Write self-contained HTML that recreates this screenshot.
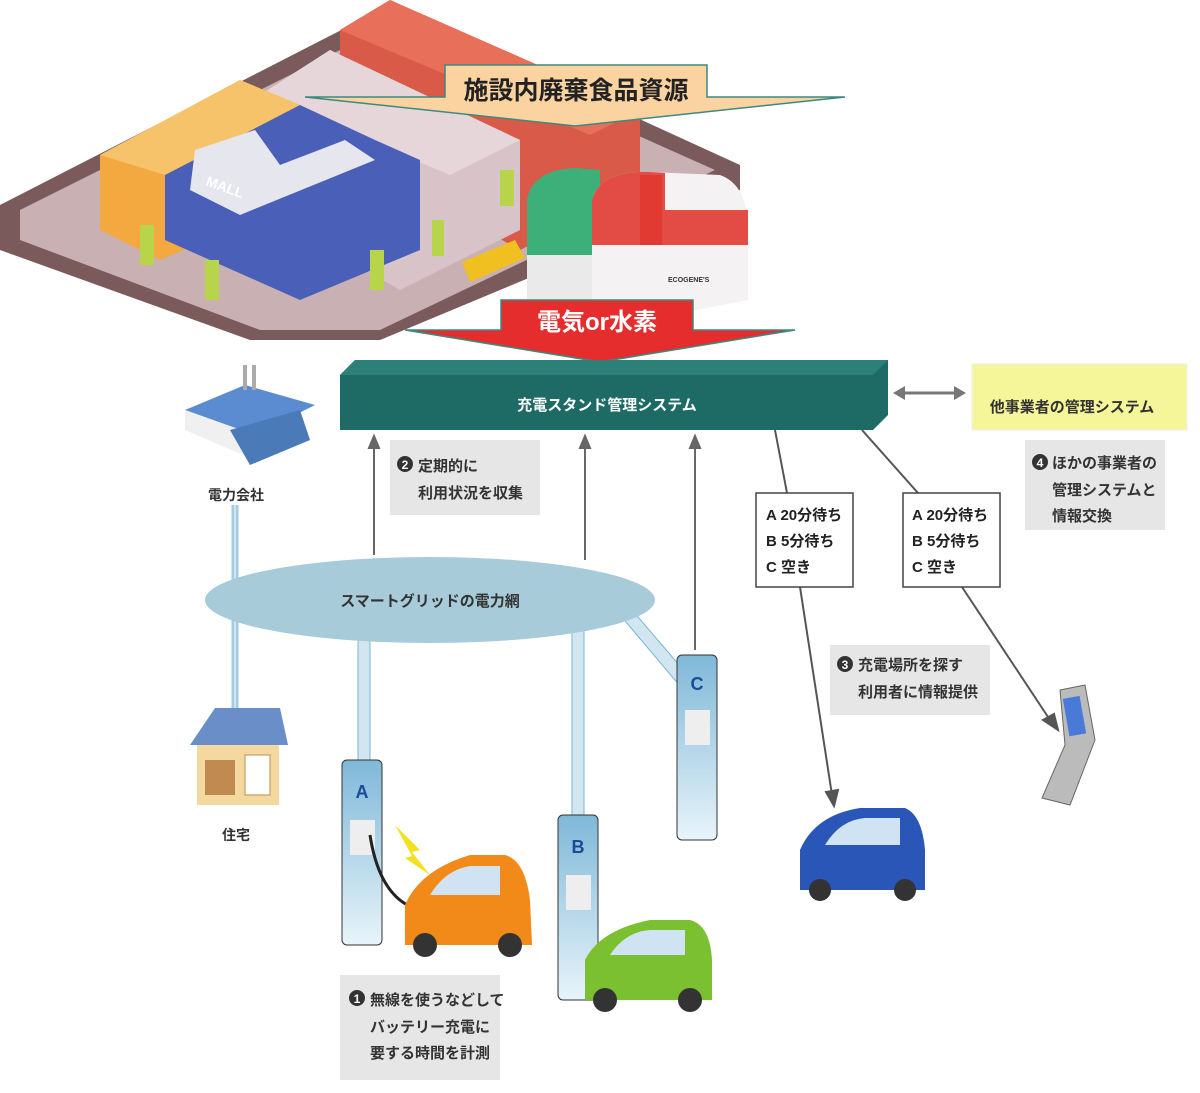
<!DOCTYPE html>
<html><head><meta charset="utf-8"><style>
html,body{margin:0;padding:0;background:#fff;}
svg{display:block;}
text{font-family:"Liberation Sans","Noto Sans CJK JP",sans-serif;font-weight:bold;}
</style></head><body>
<svg width="1200" height="1093" viewBox="0 0 1200 1093" xmlns="http://www.w3.org/2000/svg">
<defs>
<linearGradient id="bl" x1="0" x2="0" y1="0" y2="1"><stop offset="0" stop-color="#7fb8d8"/><stop offset="1" stop-color="#e8f4fa"/></linearGradient>
<linearGradient id="gr" x1="0" x2="1"><stop offset="0" stop-color="#e4e4e4"/><stop offset="1" stop-color="#fafafa"/></linearGradient>
</defs>
<!-- city ground -->
<polygon points="0,205 390,5 740,165 740,190 380,340 250,340 0,250" fill="#7a5a5a"/>
<polygon points="20,210 390,25 715,170 380,330 260,330 20,240" fill="#c9b0b3"/>
<!-- red building -->
<polygon points="340,30 390,0 640,110 640,190 520,250 340,150" fill="#d95a48"/>
<polygon points="340,30 390,0 640,110 590,135" fill="#e8705a"/>
<!-- pink building -->
<polygon points="260,95 330,50 520,140 520,230 400,290 260,210" fill="#d8c4c8"/>
<polygon points="260,95 330,50 520,140 450,175" fill="#e6d6da"/>
<!-- yellow building -->
<polygon points="100,155 240,80 300,105 300,200 160,260 100,230" fill="#f4a940"/>
<polygon points="100,155 240,80 300,105 165,175" fill="#f7c36a"/>
<!-- blue mall -->
<polygon points="165,175 300,105 375,140 420,160 420,250 300,300 165,240" fill="#4a5fb8"/>
<polygon points="195,150 255,130 280,165 345,140 375,160 240,215 190,190" fill="#e6e6ef"/>
<text x="205" y="185" font-size="14" fill="#fff" transform="rotate(20 205 185)">MALL</text>
<!-- trees -->
<rect x="140" y="225" width="14" height="40" fill="#b7d44a"/>
<rect x="205" y="260" width="14" height="40" fill="#b7d44a"/>
<rect x="370" y="250" width="14" height="40" fill="#b7d44a"/>
<rect x="432" y="220" width="12" height="36" fill="#b7d44a"/>
<rect x="500" y="170" width="14" height="36" fill="#b7d44a"/>
<!-- bus -->
<polygon points="462,262 515,240 525,258 470,282" fill="#f0c020"/>
<!-- tanks -->
<path d="M527,295 L527,200 Q532,170 575,168 L600,170 L600,300 Z" fill="#3db07a"/>
<path d="M527,255 L600,255 L600,300 L527,300 Z" fill="#eaeaea"/>
<path d="M592,330 L592,200 Q600,170 650,172 L720,175 Q748,185 748,230 L748,300 Z" fill="#f4f2f2"/>
<path d="M592,200 Q600,170 650,172 L665,173 L665,210 L748,210 L748,245 L592,245 Z" fill="#e03a32" opacity="0.9"/>
<rect x="640" y="175" width="22" height="70" fill="#e03a32"/>
<text x="668" y="282" font-size="7" fill="#333" font-weight="normal">ECOGENE'S</text>
<!-- callout -->
<polygon points="445,65 707,65 707,97 845,97 575,126 305,97 445,97" fill="#fbd3a0" stroke="#3a8a80" stroke-width="1.5"/>
<text x="576" y="99" font-size="25" text-anchor="middle" fill="#222">施設内廃棄食品資源</text>
<!-- red arrow -->
<polygon points="501,300 693,300 693,330 795,330 600,362 405,330 501,330" fill="#e52d2d" stroke="#3a8a80" stroke-width="1.5"/>
<text x="597" y="330" font-size="24" text-anchor="middle" fill="#fff">電気or水素</text>
<!-- management bar -->
<polygon points="340,375 355,360 888,360 888,415 873,430 340,430" fill="#1e6a64"/>
<polygon points="340,375 355,360 888,360 873,375" fill="#2c8078"/>
<text x="607" y="410" font-size="15" text-anchor="middle" fill="#fff">充電スタンド管理システム</text>
<!-- double arrow -->
<line x1="900" y1="393" x2="958" y2="393" stroke="#777" stroke-width="3"/>
<polygon points="893,393 905,386 905,400" fill="#777"/><polygon points="966,393 954,386 954,400" fill="#777"/>
<!-- other system -->
<rect x="972" y="364" width="215" height="66" fill="#f5f59a"/>
<rect x="972" y="364" width="215" height="66" fill="none" stroke="#eee"/>
<text x="1072" y="412" font-size="15" text-anchor="middle" fill="#333">他事業者の管理システム</text>
<!-- note 4 -->
<rect x="1025" y="440" width="140" height="90" fill="#e6e6e6"/>
<circle cx="1040" cy="462" r="8" fill="#333"/><text x="1040" y="467" font-size="12" fill="#fff" text-anchor="middle">4</text>
<text x="1052" y="468" font-size="15" fill="#333">ほかの事業者の</text>
<text x="1052" y="495" font-size="15" fill="#333">管理システムと</text>
<text x="1052" y="521" font-size="15" fill="#333">情報交換</text>
<!-- power company -->
<polygon points="185,410 245,385 315,405 255,435" fill="#5b8bd0"/>
<polygon points="185,410 255,435 255,460 185,430" fill="#f0f0f0"/>
<polygon points="230,430 300,410 310,440 250,465" fill="#4a7ab8"/>
<rect x="243" y="365" width="4" height="25" fill="#aaa"/><rect x="252" y="365" width="4" height="25" fill="#aaa"/>
<text x="236" y="500" font-size="14" text-anchor="middle" fill="#333">電力会社</text>
<!-- vertical lines from power co -->
<rect x="231" y="505" width="8" height="205" fill="#cfe4ef"/><line x1="233" y1="505" x2="233" y2="710" stroke="#7ab4d4"/><line x1="237" y1="505" x2="237" y2="710" stroke="#7ab4d4"/>
<!-- house -->
<polygon points="190,745 215,708 280,708 288,745" fill="#6a8fc8"/>
<rect x="197" y="745" width="82" height="60" fill="#f3d9a0"/>
<rect x="205" y="760" width="30" height="35" fill="#c08a50"/>
<rect x="245" y="755" width="25" height="40" fill="#fff" stroke="#c08a50"/>
<text x="236" y="840" font-size="14" text-anchor="middle" fill="#333">住宅</text>
<!-- note 2 -->
<rect x="390" y="440" width="150" height="75" fill="#e6e6e6"/>
<circle cx="405" cy="464" r="8" fill="#333"/><text x="405" y="469" font-size="12" fill="#fff" text-anchor="middle">2</text>
<text x="418" y="471" font-size="15" fill="#333">定期的に</text>
<text x="418" y="498" font-size="15" fill="#333">利用状況を収集</text>
<!-- up arrows -->
<g stroke="#666" stroke-width="2" fill="#666">
<line x1="374" y1="555" x2="374" y2="445"/><polygon points="369,448 379,448 374,436"/>
<line x1="585" y1="560" x2="585" y2="445"/><polygon points="580,448 590,448 585,436"/>
<line x1="695" y1="650" x2="695" y2="445"/><polygon points="690,448 700,448 695,436"/>
</g>
<!-- grid lines -->
<g fill="#d2e6f0" stroke="#7ab4d4">
<rect x="358" y="630" width="12" height="130"/>
<rect x="572" y="630" width="12" height="185"/>
<polygon points="620,615 632,610 692,680 680,686"/>
</g>
<!-- ellipse -->
<ellipse cx="430" cy="600" rx="225" ry="43" fill="#a7cbd9"/>
<text x="430" y="606" font-size="15" text-anchor="middle" fill="#333">スマートグリッドの電力網</text>
<!-- chargers -->
<rect x="342" y="760" width="40" height="185" rx="5" fill="url(#bl)" stroke="#333"/>
<text x="362" y="798" font-size="18" text-anchor="middle" fill="#1a4a9a">A</text>
<rect x="350" y="820" width="25" height="35" fill="#eee"/>
<rect x="558" y="815" width="40" height="185" rx="5" fill="url(#bl)" stroke="#333"/>
<text x="578" y="853" font-size="18" text-anchor="middle" fill="#1a4a9a">B</text>
<rect x="566" y="875" width="25" height="35" fill="#eee"/>
<rect x="677" y="655" width="40" height="185" rx="5" fill="url(#bl)" stroke="#333"/>
<text x="697" y="690" font-size="18" text-anchor="middle" fill="#1a4a9a">C</text>
<rect x="685" y="710" width="25" height="35" fill="#eee"/>
<!-- cable and spark -->
<path d="M370,835 Q380,900 420,910" stroke="#222" stroke-width="3" fill="none"/>
<polygon points="395,825 420,850 412,852 430,875 405,858 412,856" fill="#f3e020"/>
<!-- orange car -->
<path d="M405,945 L405,905 Q420,870 470,855 L505,855 Q525,860 530,900 L532,945 Z" fill="#f28a1a"/>
<path d="M430,895 Q445,870 470,866 L500,866 L500,895 Z" fill="#cfe3f3"/>
<circle cx="425" cy="945" r="12" fill="#333"/><circle cx="510" cy="945" r="12" fill="#333"/>
<!-- green car -->
<path d="M585,1000 L585,960 Q600,930 650,920 L690,920 Q710,925 712,960 L712,1000 Z" fill="#7ac030"/>
<path d="M610,955 Q625,932 650,930 L685,930 L685,955 Z" fill="#cfe3f3"/>
<circle cx="605" cy="1000" r="12" fill="#333"/><circle cx="690" cy="1000" r="12" fill="#333"/>
<!-- note 1 -->
<rect x="340" y="975" width="160" height="105" fill="#e6e6e6"/>
<circle cx="357" cy="998" r="8" fill="#333"/><text x="357" y="1003" font-size="12" fill="#fff" text-anchor="middle">1</text>
<text x="370" y="1005" font-size="15" fill="#333">無線を使うなどして</text>
<text x="370" y="1032" font-size="15" fill="#333">バッテリー充電に</text>
<text x="370" y="1058" font-size="15" fill="#333">要する時間を計測</text>
<!-- lines to boxes -->
<g stroke="#555" stroke-width="2" fill="#555">
<line x1="775" y1="430" x2="787" y2="493"/>
<line x1="862" y1="430" x2="918" y2="493"/>
<line x1="800" y1="587" x2="832" y2="795"/><polygon points="826,792 838,790 834,806"/>
<line x1="962" y1="587" x2="1050" y2="720"/><polygon points="1043,720 1054,714 1058,730"/>
</g>
<rect x="756" y="493" width="97" height="94" fill="#fff" stroke="#444" stroke-width="1.5"/>
<text x="766" y="520" font-size="15" fill="#222">A 20分待ち</text>
<text x="766" y="546" font-size="15" fill="#222">B 5分待ち</text>
<text x="766" y="572" font-size="15" fill="#222">C 空き</text>
<rect x="903" y="493" width="97" height="94" fill="#fff" stroke="#444" stroke-width="1.5"/>
<text x="912" y="520" font-size="15" fill="#222">A 20分待ち</text>
<text x="912" y="546" font-size="15" fill="#222">B 5分待ち</text>
<text x="912" y="572" font-size="15" fill="#222">C 空き</text>
<!-- note 3 -->
<rect x="830" y="645" width="160" height="70" fill="#e6e6e6"/>
<circle cx="845" cy="664" r="8" fill="#333"/><text x="845" y="669" font-size="12" fill="#fff" text-anchor="middle">3</text>
<text x="858" y="670" font-size="15" fill="#333">充電場所を探す</text>
<text x="858" y="697" font-size="15" fill="#333">利用者に情報提供</text>
<!-- blue car -->
<path d="M800,890 L800,850 Q815,815 860,808 L905,808 Q922,815 925,850 L925,890 Z" fill="#2a56b8"/>
<path d="M825,845 Q840,820 865,818 L900,818 L900,845 Z" fill="#cfe3f3"/>
<circle cx="820" cy="890" r="11" fill="#333"/><circle cx="905" cy="890" r="11" fill="#333"/>
<!-- phone -->
<polygon points="1060,690 1085,685 1095,740 1070,805 1042,798 1065,745" fill="#bbb" stroke="#666"/>
<rect x="1066" y="697" width="17" height="38" fill="#4a7ad8" transform="rotate(-10 1075 716)"/>
</svg>
</body></html>
